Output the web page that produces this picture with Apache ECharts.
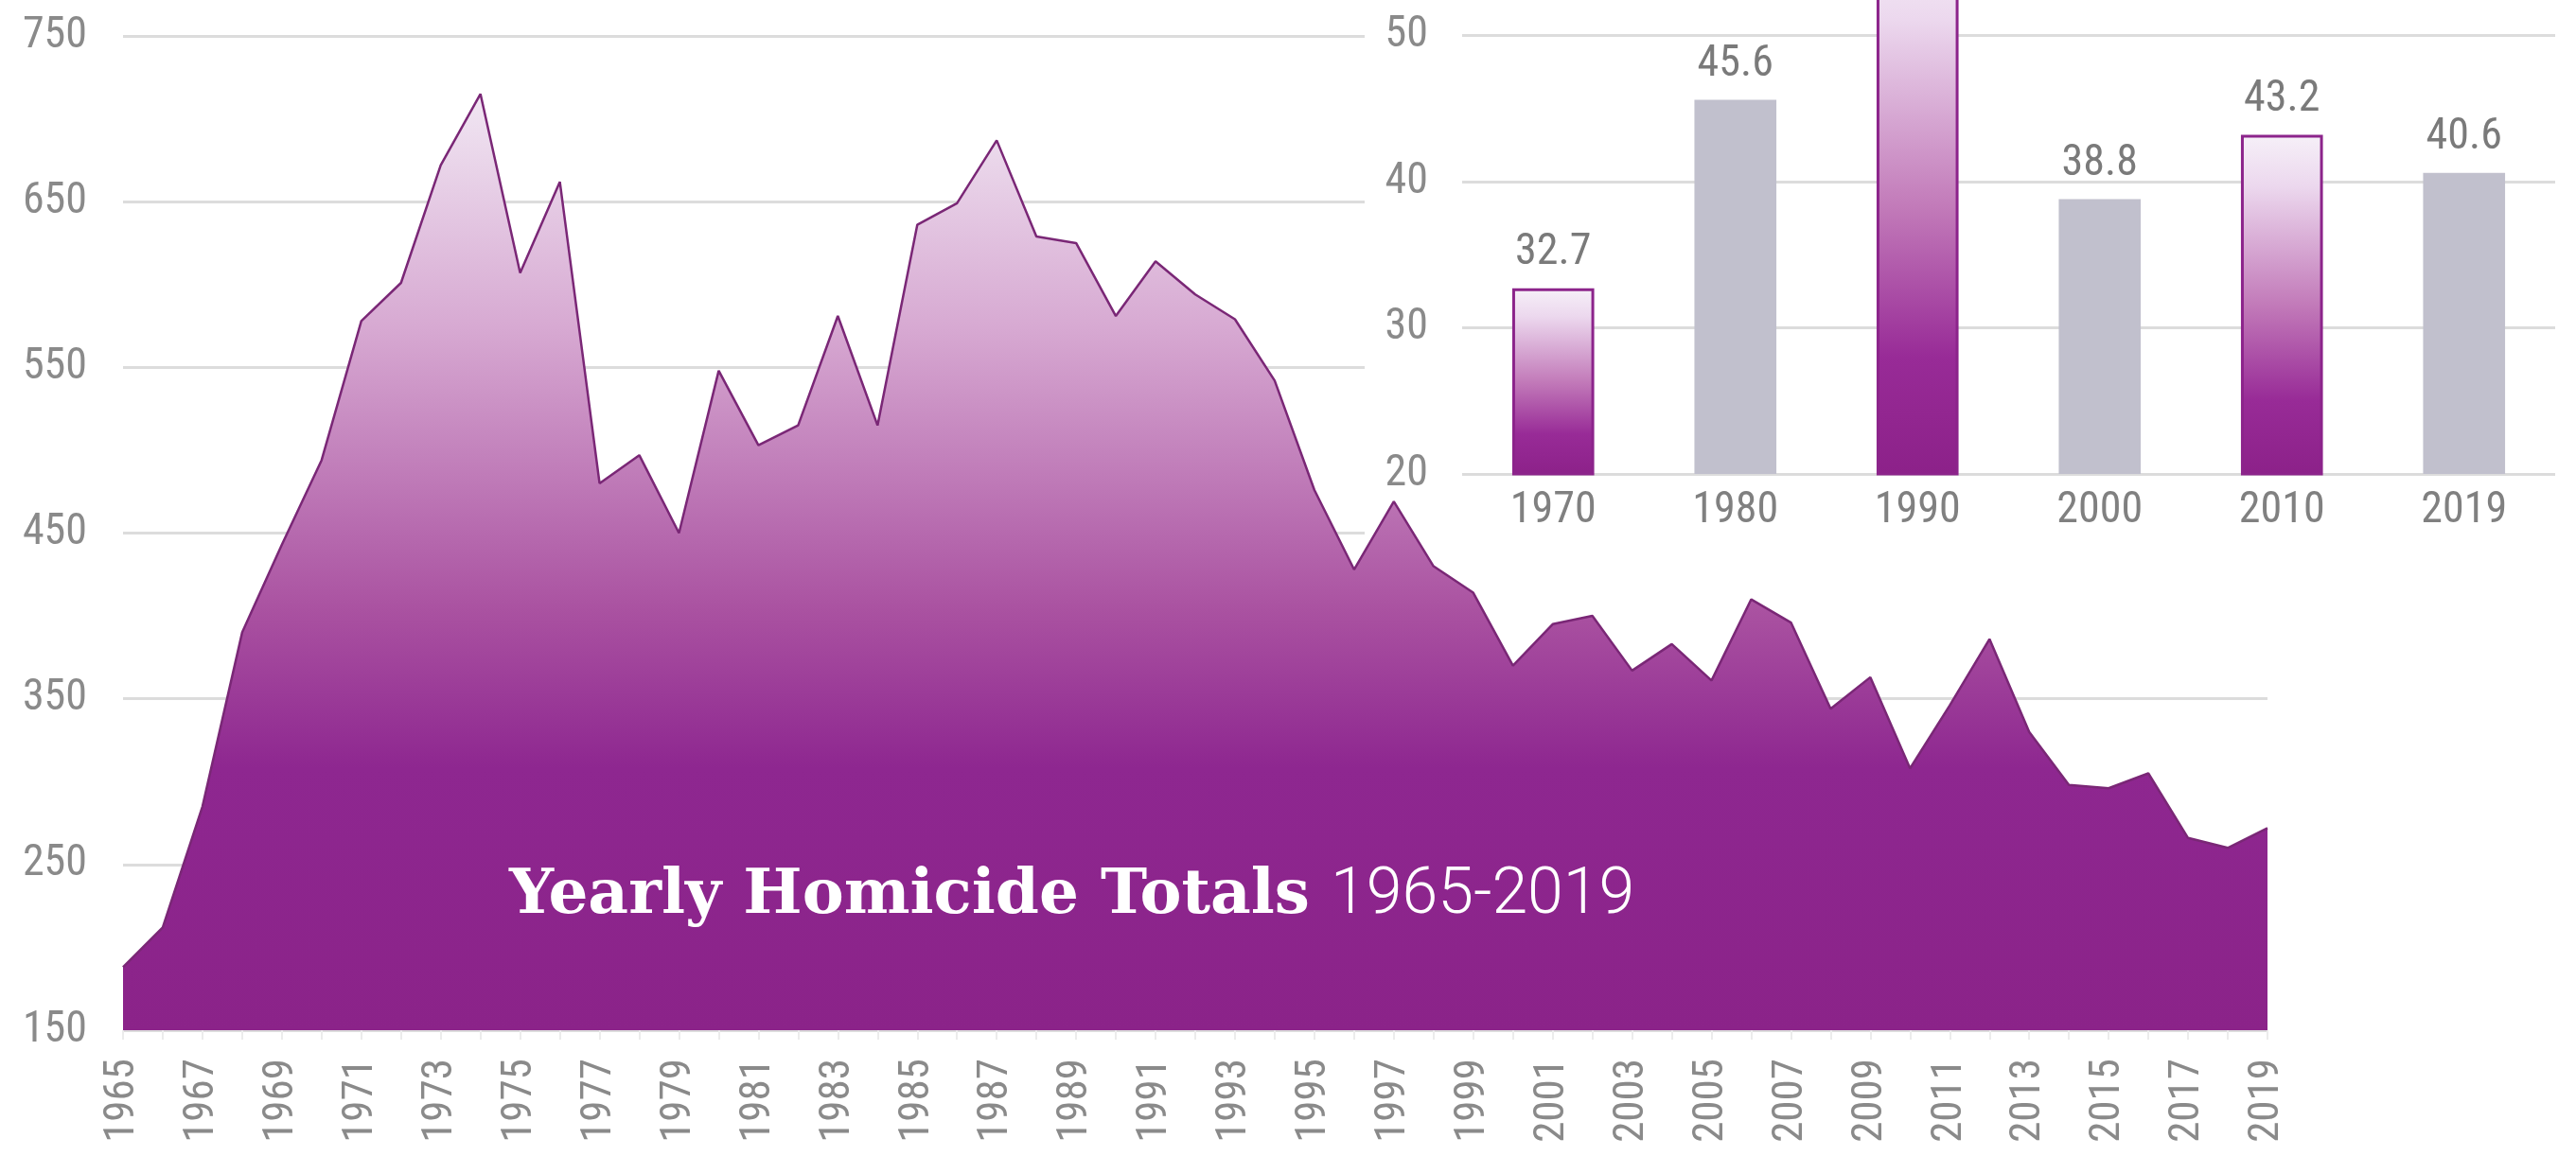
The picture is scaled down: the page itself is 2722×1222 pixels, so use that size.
<!DOCTYPE html>
<html>
<head>
<meta charset="utf-8">
<title>Yearly Homicide Totals</title>
<script src="https://cdn.jsdelivr.net/npm/echarts@6/dist/echarts.min.js"></script>
<style>
    html, body { margin: 0; padding: 0; background: #fff; }
    #main { width: 2722px; height: 1222px; }
</style>
</head>
<body>
<div id="main"></div>
<script>
// yearly homicide totals
const years = ['1965', '1966', '1967', '1968', '1969', '1970', '1971', '1972', '1973', '1974',
    '1975', '1976', '1977', '1978', '1979', '1980', '1981', '1982', '1983', '1984',
    '1985', '1986', '1987', '1988', '1989', '1990', '1991', '1992', '1993', '1994',
    '1995', '1996', '1997', '1998', '1999', '2000', '2001', '2002', '2003', '2004',
    '2005', '2006', '2007', '2008', '2009', '2010', '2011', '2012', '2013', '2014',
    '2015', '2016', '2017', '2018', '2019'];
const homicides = [188, 212, 285, 390, 443, 494, 578, 601, 672, 715,
    607, 662, 480, 497, 450, 548, 503, 515, 581, 515,
    636, 649, 687, 629, 625, 581, 614, 594, 579, 542,
    476, 428, 469, 430, 414, 370, 395, 400, 367, 383,
    361, 410, 396, 344, 363, 308, 346, 386, 330, 298,
    296, 305, 266, 260, 272];
const totalTicks = [150, 250, 350, 450, 550, 650, 750];

// inset: rate per decade (1990 runs off the top of the picture)
const rateYears = ['1970', '1980', '1990', '2000', '2010', '2019'];
const rates = [32.7, 45.6, 56.6, 38.8, 43.2, 40.6];
const rateTicks = [20, 30, 40, 50];

const labelFont = "'Liberation Sans Narrow', 'Roboto Condensed', 'DejaVu Sans Condensed', sans-serif";
const purple = '#8c248b';

let chart = echarts.init(document.getElementById('main'));

let barGradient = new echarts.graphic.LinearGradient(0, 0, 0, 1, [
    { offset: 0, color: '#f6f0f8' },
    { offset: 0.15, color: '#ecd8ee' },
    { offset: 0.5, color: '#c27ab9' },
    { offset: 0.78, color: '#982b97' },
    { offset: 1, color: '#8c2189' }
]);

let rateData = rates.map((v, i) => {
    // every other bar is highlighted in purple, the rest grey
    if (i % 2 === 0) {
        return {
            value: v,
            itemStyle: { color: barGradient, borderColor: purple, borderWidth: 3 }
        };
    }
    return { value: v, itemStyle: { color: '#c1c0cd' } };
});

let rateStep = rateTicks[1] - rateTicks[0];

let option = {
    backgroundColor: '#fff',
    animation: false,
    title: {
        left: 533,
        top: 909,
        text: '{a|Yearly Homicide Totals}{b|1965-2019}',
        textStyle: {
            rich: {
                a: { fontFamily: 'DejaVu Serif', fontWeight: 'bold', fontSize: 66, color: '#fff' },
                b: { fontFamily: 'Roboto', fontWeight: 300, fontSize: 68, color: '#fff', padding: [0, 0, 0, 22] }
            }
        }
    },
    grid: [
        { left: 130, right: 326, top: 38, bottom: 133, outerBoundsMode: 'none' },
        // one extra step above 50 so the 1990 bar can run off the top
        { left: 1545, right: 22, top: 37 - 154, bottom: 721, outerBoundsMode: 'none' }
    ],
    graphic: [
        {
            // white panel behind the inset, hides the main grid lines
            type: 'rect',
            z: 1,
            shape: { x: 1442, y: 0, width: 1280, height: 640 },
            style: { fill: '#fff' }
        }
    ],
    xAxis: [
        {
            type: 'category',
            gridIndex: 0,
            data: years,
            boundaryGap: false,
            axisLine: { show: false },
            axisTick: { show: true, interval: 0, length: 10, lineStyle: { color: '#ececec', width: 2 } },
            axisLabel: {
                interval: 1,
                rotate: 90,
                margin: 30,
                fontFamily: labelFont,
                fontSize: 45,
                color: '#8a8a8a'
            },
            splitLine: { show: false }
        },
        {
            type: 'category',
            gridIndex: 1,
            z: 3,
            data: rateYears,
            axisLine: { show: false },
            axisTick: { show: false },
            axisLabel: {
                margin: 16,
                fontFamily: labelFont,
                fontSize: 46,
                color: '#808080'
            }
        }
    ],
    yAxis: [
        {
            type: 'value',
            gridIndex: 0,
            min: totalTicks[0],
            max: totalTicks[totalTicks.length - 1],
            interval: totalTicks[1] - totalTicks[0],
            axisLine: { show: false },
            axisTick: { show: false },
            axisLabel: {
                margin: 38,
                fontFamily: labelFont,
                fontSize: 46,
                color: '#8a8a8a'
            },
            splitLine: { lineStyle: { color: '#dcdcdc', width: 3 } }
        },
        {
            type: 'value',
            gridIndex: 1,
            z: 3,
            min: rateTicks[0],
            max: rateTicks[rateTicks.length - 1] + rateStep,
            interval: rateStep,
            axisLine: { show: false },
            axisTick: { show: false },
            axisLabel: {
                margin: 36,
                fontFamily: labelFont,
                fontSize: 46,
                color: '#8a8a8a'
            },
            splitLine: { lineStyle: { color: '#dcdcdc', width: 3 } }
        }
    ],
    series: [
        {
            name: 'Homicides',
            type: 'line',
            xAxisIndex: 0,
            yAxisIndex: 0,
            z: 2,
            data: homicides,
            symbol: 'none',
            lineStyle: { color: '#7a2776', width: 2.5 },
            areaStyle: {
                opacity: 1,
                color: new echarts.graphic.LinearGradient(0, 0, 0, 1, [
                    { offset: 0, color: '#f1e7f3' },
                    { offset: 0.25, color: '#d7a9d2' },
                    { offset: 0.55, color: '#aa52a1' },
                    { offset: 0.72, color: '#8e2790' },
                    { offset: 1, color: '#8b2389' }
                ])
            }
        },
        {
            name: 'Rate',
            type: 'bar',
            xAxisIndex: 1,
            yAxisIndex: 1,
            z: 4,
            barWidth: '45%',
            data: rateData,
            label: {
                show: true,
                position: 'top',
                distance: 14,
                fontFamily: labelFont,
                fontSize: 46,
                color: '#7a7a7a'
            }
        }
    ]
};

chart.setOption(option);
</script>
</body>
</html>
